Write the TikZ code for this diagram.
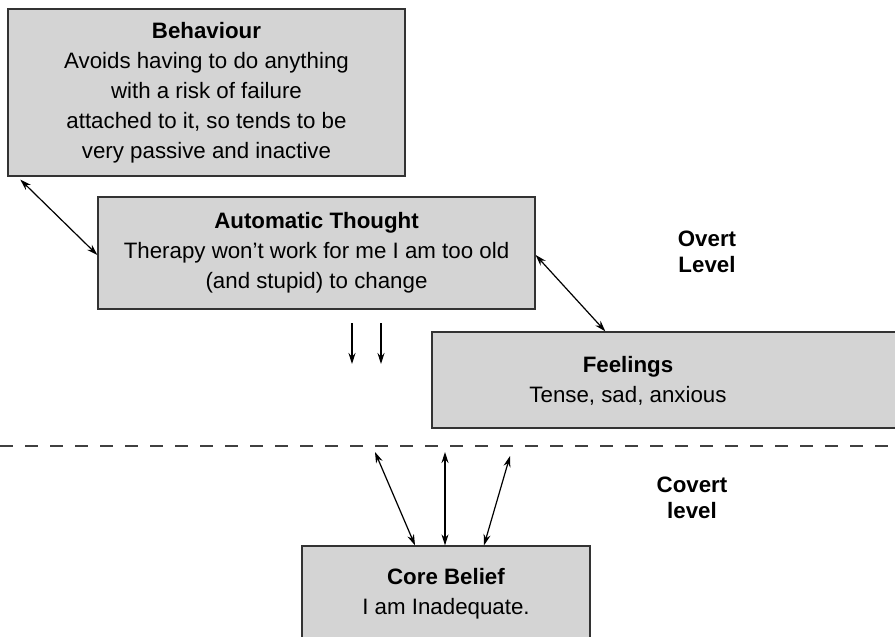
\documentclass[tikz,border=0pt]{standalone}
\usepackage{fontspec}
\setmainfont{Liberation Sans}
\usetikzlibrary{arrows.meta,calc}
\begin{document}
\begin{tikzpicture}[x=1pt,y=-1pt,
  box/.style={draw=black!80, line width=1.3pt, fill=black!17, inner sep=0pt, align=center,
              font=\fontsize{22.3}{30}\selectfont},
  txt/.style={inner sep=0pt, align=center, font=\fontsize{22.3}{30}\selectfont},
  dbl/.style={{Stealth[length=11pt,width=7pt]}-{Stealth[length=11pt,width=7pt]}, line width=1.2pt},
  one/.style={-{Stealth[length=11pt,width=7pt]}, line width=1.2pt},
  lbl/.style={font=\fontsize{22.3}{26}\selectfont\bfseries, align=center, inner sep=0pt}]
\useasboundingbox (0,0) rectangle (895,637);

% boxes
\node[box, minimum width=397pt, minimum height=167pt] (beh) at (206.5,92.5)
  {\textbf{Behaviour}\\Avoids having to do anything\\with a risk of failure\\attached to it, so tends to be\\very passive and inactive};
\node[box, minimum width=437pt, minimum height=112pt] (at) at (316.5,253)
  {\textbf{Automatic Thought}\\Therapy won’t work for me I am too old\\(and stupid) to change};
\node[box, minimum width=473pt, minimum height=96pt] (feel) at (668.5,380) {};
\node[txt] (feeltxt) at (628,381) {\textbf{Feelings}\\Tense, sad, anxious};
\node[box, minimum width=288pt, minimum height=96pt] (core) at (446,594)
  {\textbf{Core Belief}\\I am Inadequate.};

% level labels
\node[lbl] (overt) at (707,252) {Overt\\Level};
\node[lbl] (covert) at (692,498) {Covert\\level};

% dashed divider
\coordinate (dl) at (0,446);
\coordinate (dr) at (895,446);
\draw[black!75, line width=1.3pt, dash pattern=on 13pt off 12pt] (dl) -- (dr);

% connectors
\draw[dbl] ([xshift=13pt,yshift=-3pt]beh.south west) -- ([yshift=-2pt]at.west);
\draw[dbl] ([yshift=-2pt]at.east) -- ([xshift=174pt]feel.north west);

\coordinate (d1s) at (352,323);
\coordinate (d1e) at (352,364);
\coordinate (d2s) at (381,323);
\coordinate (d2e) at (381,364);
\draw[one] (d1s) -- (d1e);
\draw[one] (d2s) -- (d2e);

\coordinate (c1) at (375,452);
\coordinate (c2) at (445,452);
\coordinate (c3) at (510,456);
\draw[dbl] ([xshift=-31pt]core.north) -- (c1);
\draw[dbl] ([xshift=-1pt]core.north) -- (c2);
\draw[dbl] ([xshift=38pt]core.north) -- (c3);
\end{tikzpicture}
\end{document}
